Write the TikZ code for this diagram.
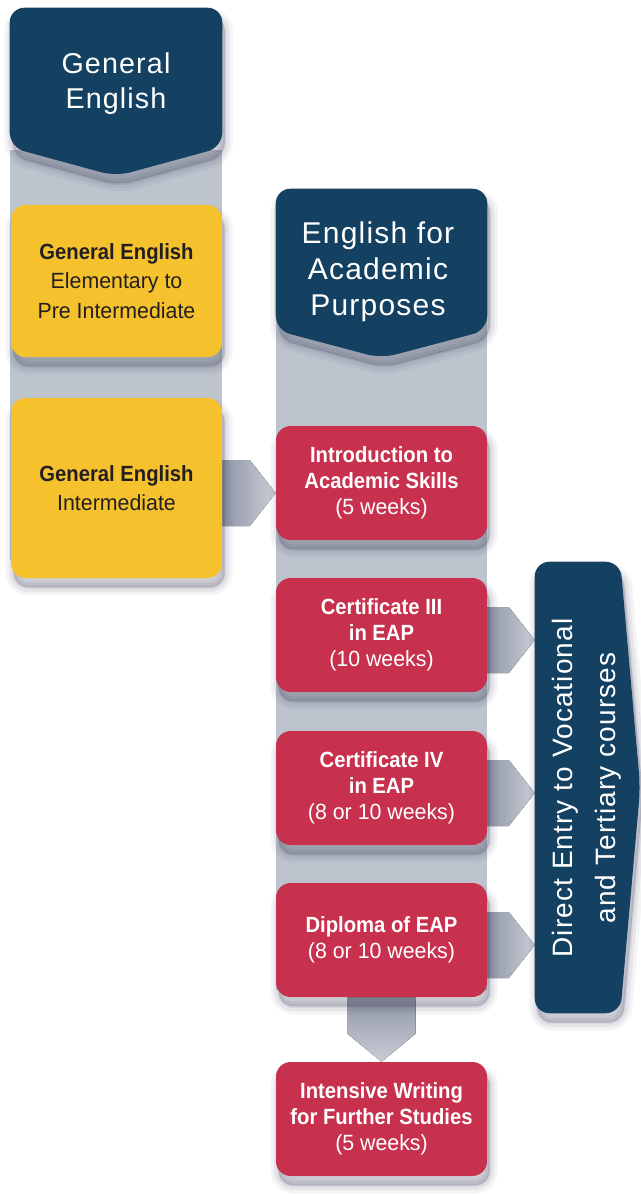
\documentclass[tikz,border=0pt]{standalone}
\usepackage{fontspec}
\setmainfont{Liberation Sans}
\newfontfamily\headfont[LetterSpace=4]{Liberation Sans}
\newfontfamily\condreg[FakeStretch=0.97]{Liberation Sans}
\newfontfamily\condbold[FakeStretch=0.92]{Liberation Sans Bold}
\usetikzlibrary{calc}
\definecolor{navy}{RGB}{20,65,97}
\definecolor{gold}{RGB}{245,194,45}
\definecolor{crimson}{RGB}{199,49,77}
\definecolor{strip}{RGB}{190,196,206}
\definecolor{arrdark}{RGB}{145,150,166}
\definecolor{arrlight}{RGB}{200,205,214}
\definecolor{textdark}{RGB}{35,31,32}
\definecolor{shadowc}{RGB}{50,52,80}
\pgfdeclarelayer{back}
\pgfdeclarelayer{mid}
\pgfsetlayers{back,mid,main}
\newcommand\B[1]{{\condbold #1}}
\newcommand\grayarrowR[2]{%
  \fill[arrowR] let \p1=(#1.east), \p2=(#2.west) in
    (\x1,\y1+21pt) -- (\x2-19.5pt,\y1+21pt) -- (\x2,\y1-3.75pt)
    -- (\x2-19.5pt,\y1-28.5pt) -- (\x1,\y1-28.5pt) -- cycle;}
\newcommand\grayarrowD[2]{%
  \fill[arrowD] let \p1=(#1.south), \p2=(#2.north) in
    (\x1-25.5pt,\y1) -- (\x1+25.5pt,\y1) -- (\x1+25.5pt,\y2+21pt)
    -- (\x1,\y2) -- (\x1-25.5pt,\y2+21pt) -- cycle;}
\begin{document}
\begin{tikzpicture}[x=0.75pt,y=-0.75pt,
  softshadow/.style={
    preaction={draw=shadowc,draw opacity=0.05,line width=12pt,transform canvas={xshift=2pt,yshift=-7pt}},
    preaction={draw=shadowc,draw opacity=0.07,line width=7pt,transform canvas={xshift=2pt,yshift=-7pt}},
    preaction={draw=shadowc,draw opacity=0.09,line width=2.5pt,fill=shadowc,fill opacity=0.22,transform canvas={xshift=2pt,yshift=-7pt}}},
  card/.style={rectangle,rounded corners=11pt,minimum width=158.25pt,inner sep=0pt,align=center,softshadow},
  yellowcard/.style={card,fill=gold,text=textdark,font=\condreg\fontsize{16.5}{22}\selectfont},
  redcard/.style={card,fill=crimson,text=white,minimum height=85.5pt,font=\condreg\fontsize{16.5}{19.5}\selectfont},
  navyshape/.style={fill=navy,rounded corners=11pt,softshadow},
  headtext/.style={text=white,align=center,inner sep=0pt,font=\headfont\fontsize{21.5}{26.5}\selectfont},
  holder/.style={rectangle,inner sep=0pt},
  arrowR/.style={left color=arrdark,right color=arrlight},
  arrowD/.style={top color=arrdark,bottom color=arrlight}
]
\useasboundingbox (0,0) rectangle (641,1194);
\begin{pgfonlayer}{back}
  \fill[white] (0,0) rectangle (641,1194);
  \fill[strip] (10,150) rectangle (222,560);
  \fill[strip] (276,320) rectangle (487,990);
\end{pgfonlayer}

% General English header
\node[holder,minimum width=159pt,minimum height=104.25pt] (geh) at (116,77.5) {};
\path[navyshape] (geh.north west) -- (geh.north east) -- (geh.south east)
  -- ($(geh.south)+(0,-21.75pt)$) -- (geh.south west) -- cycle;
\node[headtext] (gehtext) at (116,83.5) {General\\English};

% EAP header
\node[holder,minimum width=158.25pt,minimum height=105.75pt] (eaph) at (381.5,259.5) {};
\path[navyshape] (eaph.north west) -- (eaph.north east) -- (eaph.south east)
  -- ($(eaph.south)+(0,-21pt)$) -- (eaph.south west) -- cycle;
\node[headtext,font=\headfont\fontsize{22.5}{27}\selectfont] (eaphtext) at (378,272) {English for\\Academic\\Purposes};

% yellow cards
\node[yellowcard,minimum height=114pt] (ge1) at (116.5,281) {\B{General English}\\Elementary to\\Pre Intermediate};
\node[yellowcard,minimum height=135pt] (ge2) at (116.5,488) {\B{General English}\\Intermediate};

% red cards
\node[redcard] (intro) at (381.5,483) {\B{Introduction to}\\\B{Academic Skills}\\(5 weeks)};
\node[redcard] (cert3) at (381.5,635) {\B{Certificate III}\\\B{in EAP}\\(10 weeks)};
\node[redcard] (cert4) at (381.5,788) {\B{Certificate IV}\\\B{in EAP}\\(8 or 10 weeks)};
\node[redcard] (dip) at (381.5,940) {\B{Diploma of EAP}\\(8 or 10 weeks)};
\node[redcard] (iw) at (381.5,1119) {\B{Intensive Writing}\\\B{for Further Studies}\\(5 weeks)};

% Direct entry
\node[holder,minimum width=63.75pt,minimum height=338.25pt] (de) at (577.5,787.5) {};
\path[navyshape] (de.north west) -- (de.north east) -- ($(de.east)+(15pt,0)$)
  -- (de.south east) -- (de.south west) -- cycle;
\node[headtext,rotate=90,font=\headfont\fontsize{21}{32}\selectfont] (detext) at (587,788) {Direct Entry to Vocational\\and Tertiary courses};

% connectors
\begin{pgfonlayer}{mid}
  \grayarrowR{ge2}{intro}
  \grayarrowR{cert3}{de}
  \grayarrowR{cert4}{de}
  \grayarrowR{dip}{de}
  \grayarrowD{dip}{iw}
\end{pgfonlayer}
\end{tikzpicture}
\end{document}
